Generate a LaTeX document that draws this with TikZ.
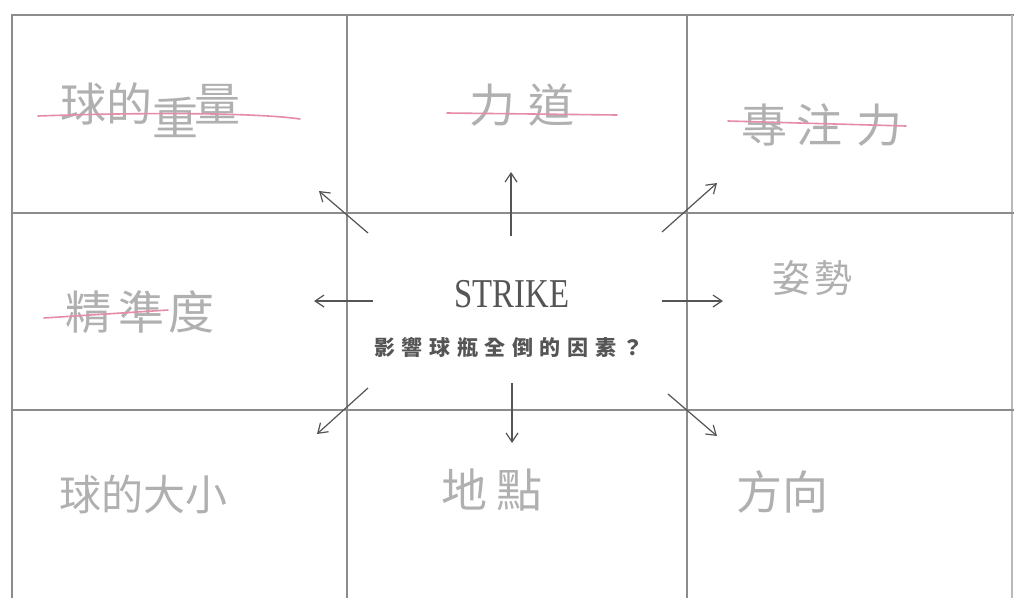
\documentclass[tikz,border=0pt]{standalone}
\usepackage{fontspec}
\setmainfont{Liberation Serif}
\newfontfamily\cjk{Noto Sans CJK TC}
\usetikzlibrary{arrows.meta}
\definecolor{gridc}{HTML}{8C8C8C}
\definecolor{arrc}{HTML}{555555}
\definecolor{handc}{HTML}{B0B0B0}
\definecolor{strikec}{HTML}{E58DA6}
\definecolor{textc}{HTML}{555555}
\tikzset{
  gridline/.style={draw=gridc, line width=1.4pt},
  hand/.style={text=handc, font=\cjk\fontsize{46}{46}\selectfont, inner sep=0pt},
  strikeline/.style={draw=strikec, line width=1.6pt, line cap=round},
  factor/.style={draw=arrc, line width=1.2pt, -{Straight Barb[length=9pt,width=12pt,line width=1.2pt]}},
}
\newcommand{\cb}[1]{\makebox[27.6pt]{#1}}
\begin{document}
\begin{tikzpicture}[x=1pt,y=-1pt]
\useasboundingbox (0,0) rectangle (1014,598);
\fill[white] (0,0) rectangle (1014,598);
% grid
\draw[gridline] (12,598) -- (12,15) -- (1014,15);
\draw[gridline, draw=gridc!60] (1012,15) -- (1012,598);
\draw[gridline] (12,213) -- (1014,213);
\draw[gridline] (12,410) -- (1014,410);
\draw[gridline] (347,15) -- (347,598);
\draw[gridline] (687,15) -- (687,598);
% center
\node[inner sep=0pt, text=textc] (title) at (512,294) {\scalebox{0.8}[1]{\fontsize{41}{41}\selectfont STRIKE}};
\node[inner sep=0pt, text=textc, font=\cjk\bfseries\fontsize{21}{21}\selectfont] (question) at (509,347)
  {\cb{影}\cb{響}\cb{球}\cb{瓶}\cb{全}\cb{倒}\cb{的}\cb{因}\cb{素}\cb{？}};
% cells
\node[hand] (c11) at (150,110) {球的\raisebox{-14pt}{重}\hspace{-4pt}量};
\node[hand] (c12) at (522,105) {力\hspace{14pt}道};
\node[hand] (c13) at (822,125) {專\hspace{10pt}注\hspace{14pt}力};
\node[hand] (c21) at (140,312) {精\hspace{8pt}準\hspace{4pt}度};
\node[hand, font=\cjk\fontsize{38}{38}\selectfont] (c23) at (812,278) {姿\hspace{4pt}勢};
\node[hand, font=\cjk\fontsize{42}{42}\selectfont] (c31) at (143,494) {球的大小};
\node[hand] (c32) at (492,490) {地\hspace{10pt}點};
\node[hand] (c33) at (782,492) {方向};
% strike-throughs
\draw[strikeline] (38,116) .. controls (150,112) and (260,113) .. (300,119);
\draw[strikeline] (447,113) -- (617,115);
\draw[strikeline] (728,121) -- (906,126);
\draw[strikeline] (44,318) -- (168,310);
% arrows
\coordinate (tNW) at (368,233); \coordinate (hNW) at (319,191);
\coordinate (tN) at (511,236);  \coordinate (hN) at (511,172);
\coordinate (tNE) at (662,232); \coordinate (hNE) at (717,183);
\coordinate (tW) at (373,301);  \coordinate (hW) at (314,301);
\coordinate (tE) at (662,301);  \coordinate (hE) at (723,301);
\coordinate (tSW) at (368,388); \coordinate (hSW) at (317,434);
\coordinate (tS) at (512,383);  \coordinate (hS) at (512,443);
\coordinate (tSE) at (668,394); \coordinate (hSE) at (717,436);
\foreach \d in {NW,N,NE,W,E,SW,S,SE} \draw[factor] (t\d) -- (h\d);
\end{tikzpicture}
\end{document}
